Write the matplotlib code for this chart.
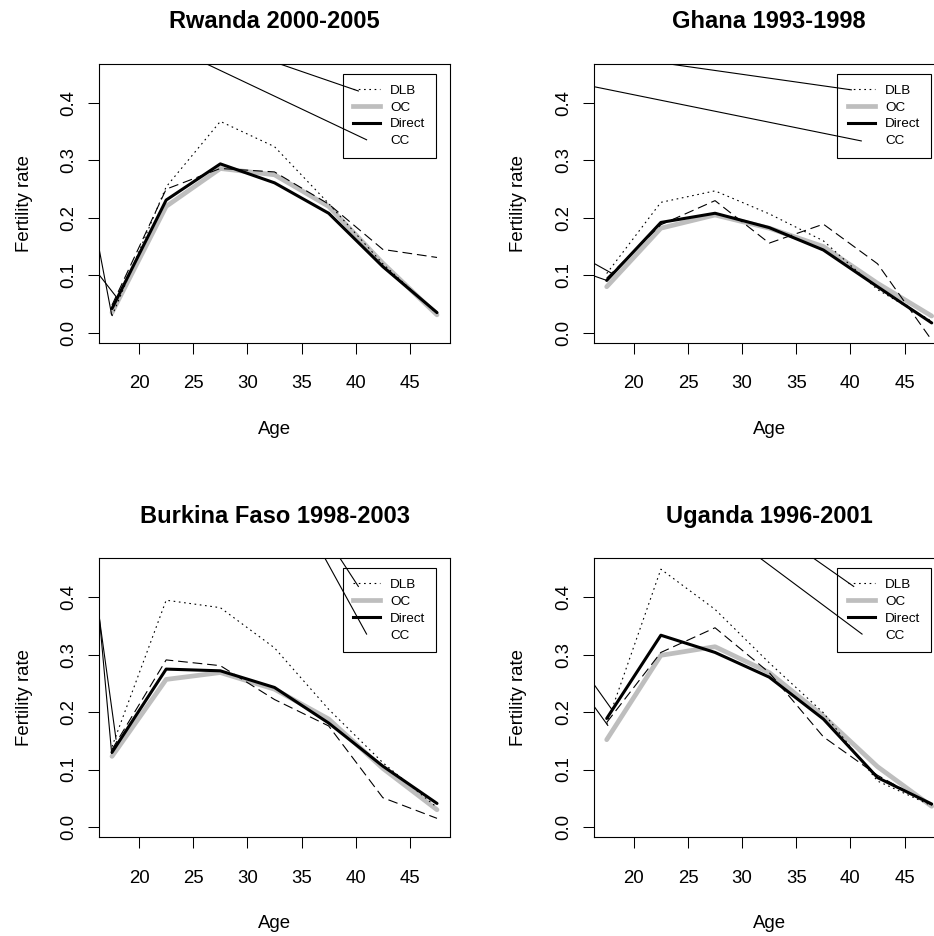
import matplotlib
matplotlib.use("Agg")
import matplotlib.pyplot as plt
from matplotlib.lines import Line2D

plt.rcParams['font.family'] = ['Liberation Sans', 'DejaVu Sans']
plt.rcParams['lines.scale_dashes'] = False

ages = [17.5, 22.5, 27.5, 32.5, 37.5, 42.5, 47.5]
xticks = [20, 25, 30, 35, 40, 45]
yticks = [0.0, 0.1, 0.2, 0.3, 0.4]
ytick_labels = ["0.0", "0.1", "0.2", "0.3", "0.4"]
legend_labels = ["DLB", "OC", "Direct", "CC"]

titles = ["Rwanda 2000-2005", "Ghana 1993-1998",
          "Burkina Faso 1998-2003", "Uganda 1996-2001"]

# estimates per age group
rwanda_dlb = [0.029, 0.254, 0.368, 0.324, 0.225, 0.120, 0.033]
rwanda_oc = [0.035, 0.220, 0.286, 0.275, 0.220, 0.121, 0.031]
rwanda_direct = [0.042, 0.231, 0.294, 0.261, 0.208, 0.115, 0.035]
rwanda_cc = [0.048, 0.250, 0.286, 0.280, 0.224, 0.145, 0.131]

ghana_dlb = [0.103, 0.227, 0.247, 0.207, 0.160, 0.075, 0.020]
ghana_oc = [0.080, 0.182, 0.205, 0.182, 0.150, 0.086, 0.029]
ghana_direct = [0.091, 0.192, 0.208, 0.183, 0.144, 0.080, 0.017]
ghana_cc = [0.095, 0.188, 0.230, 0.156, 0.189, 0.120, -0.013]

burkina_dlb = [0.140, 0.395, 0.382, 0.312, 0.205, 0.112, 0.034]
burkina_oc = [0.123, 0.257, 0.269, 0.240, 0.188, 0.102, 0.030]
burkina_direct = [0.130, 0.275, 0.272, 0.243, 0.181, 0.106, 0.041]
burkina_cc = [0.135, 0.291, 0.281, 0.222, 0.176, 0.051, 0.015]

uganda_dlb = [0.179, 0.449, 0.379, 0.286, 0.199, 0.080, 0.037]
uganda_oc = [0.152, 0.299, 0.314, 0.269, 0.193, 0.105, 0.036]
uganda_direct = [0.189, 0.334, 0.304, 0.261, 0.188, 0.086, 0.040]
uganda_cc = [0.182, 0.304, 0.347, 0.269, 0.157, 0.090, 0.038]

# stray thin solid segments seen in each panel: (x0, y0, x1, y1)
rwanda_extra = [(26.24, 0.468, 41.0, 0.336), (33.0, 0.468, 40.24, 0.421),
                (16.3, 0.147, 17.47, 0.031), (16.3, 0.101, 17.87, 0.063)]
ghana_extra = [(23.3, 0.468, 40.08, 0.423), (16.3, 0.4286, 41.0, 0.334),
               (16.3, 0.121, 17.96, 0.1035), (16.3, 0.099, 17.5, 0.091)]
burkina_extra = [(37.16, 0.468, 41.0, 0.336), (38.55, 0.468, 40.24, 0.419),
                 (16.3, 0.372, 17.47, 0.128), (16.3, 0.368, 17.87, 0.153)]
uganda_extra = [(31.68, 0.468, 41.07, 0.336), (36.6, 0.468, 40.3, 0.419),
                (16.3, 0.249, 17.96, 0.205), (16.3, 0.211, 17.6, 0.177)]

panels = [
    (rwanda_dlb, rwanda_oc, rwanda_direct, rwanda_cc, rwanda_extra),
    (ghana_dlb, ghana_oc, ghana_direct, ghana_cc, ghana_extra),
    (burkina_dlb, burkina_oc, burkina_direct, burkina_cc, burkina_extra),
    (uganda_dlb, uganda_oc, uganda_direct, uganda_cc, uganda_extra),
]

W, H = 934, 936
fig = plt.figure(figsize=(W / 100, H / 100), dpi=100)

# plot boxes in pixels (left, top); right column runs past the image edge
box_w, box_h = 351, 279
origins = [(99, 64), (593.7, 64), (99, 558.3), (593.7, 558.3)]

gray = "#bebebe"
dotted = (0, (1.2, 2.6))
dashed = (0, (7, 3.5))

for i, (dlb, oc, direct, cc, extra) in enumerate(panels):
    px, py = origins[i]
    ax = fig.add_axes([px / W, (H - py - box_h) / H, box_w / W, box_h / H])

    ax.plot(ages, oc, color=gray, lw=3.4, solid_capstyle='round',
            solid_joinstyle='round')
    ax.plot(ages, direct, color="black", lw=2.2, solid_capstyle='round',
            solid_joinstyle='round')
    ax.plot(ages, dlb, color="black", lw=0.8, linestyle=dotted)
    ax.plot(ages, cc, color="black", lw=0.8, linestyle=dashed)
    for x0, y0, x1, y1 in extra:
        ax.plot([x0, x1], [y0, y1], color="black", lw=0.8)

    ax.set_xlim(16.3, 48.7)
    ax.set_ylim(-0.018, 0.468)
    ax.set_xticks(xticks)
    ax.set_yticks(yticks)
    ax.set_yticklabels(ytick_labels)
    ax.tick_params(direction='out', length=7.9, width=0.75,
                   labelsize=13.4, colors="black")
    ax.tick_params(axis='x', pad=15.5)
    ax.tick_params(axis='y', pad=7.8, labelrotation=90)
    for lab in ax.get_yticklabels():
        lab.set_verticalalignment('center')
    for s in ax.spines.values():
        s.set_linewidth(0.8)

    ax.set_title(titles[i], fontsize=17, fontweight='bold', pad=25.7)
    ax.set_xlabel("Age", fontsize=13.4)
    ax.set_ylabel("Fertility rate", fontsize=13.4)
    ax.xaxis.set_label_coords(0.5, -0.279)
    ax.yaxis.set_label_coords(-0.189, 0.5)

    handles = [
        Line2D([], [], color="black", lw=0.8, linestyle=dotted),
        Line2D([], [], color=gray, lw=3.4),
        Line2D([], [], color="black", lw=2.2),
        Line2D([], [], linestyle='none'),
    ]
    leg = ax.legend(handles, legend_labels, loc='upper right',
                    bbox_to_anchor=(0.960, 0.965), borderaxespad=0,
                    fontsize=9.7, handlelength=2.0, handletextpad=0.75,
                    labelspacing=0.33, borderpad=0.78, fancybox=False,
                    edgecolor="black", framealpha=1)
    leg.get_frame().set_facecolor('none')
    leg.get_frame().set_linewidth(0.8)

plt.savefig("out.png", dpi=100)
